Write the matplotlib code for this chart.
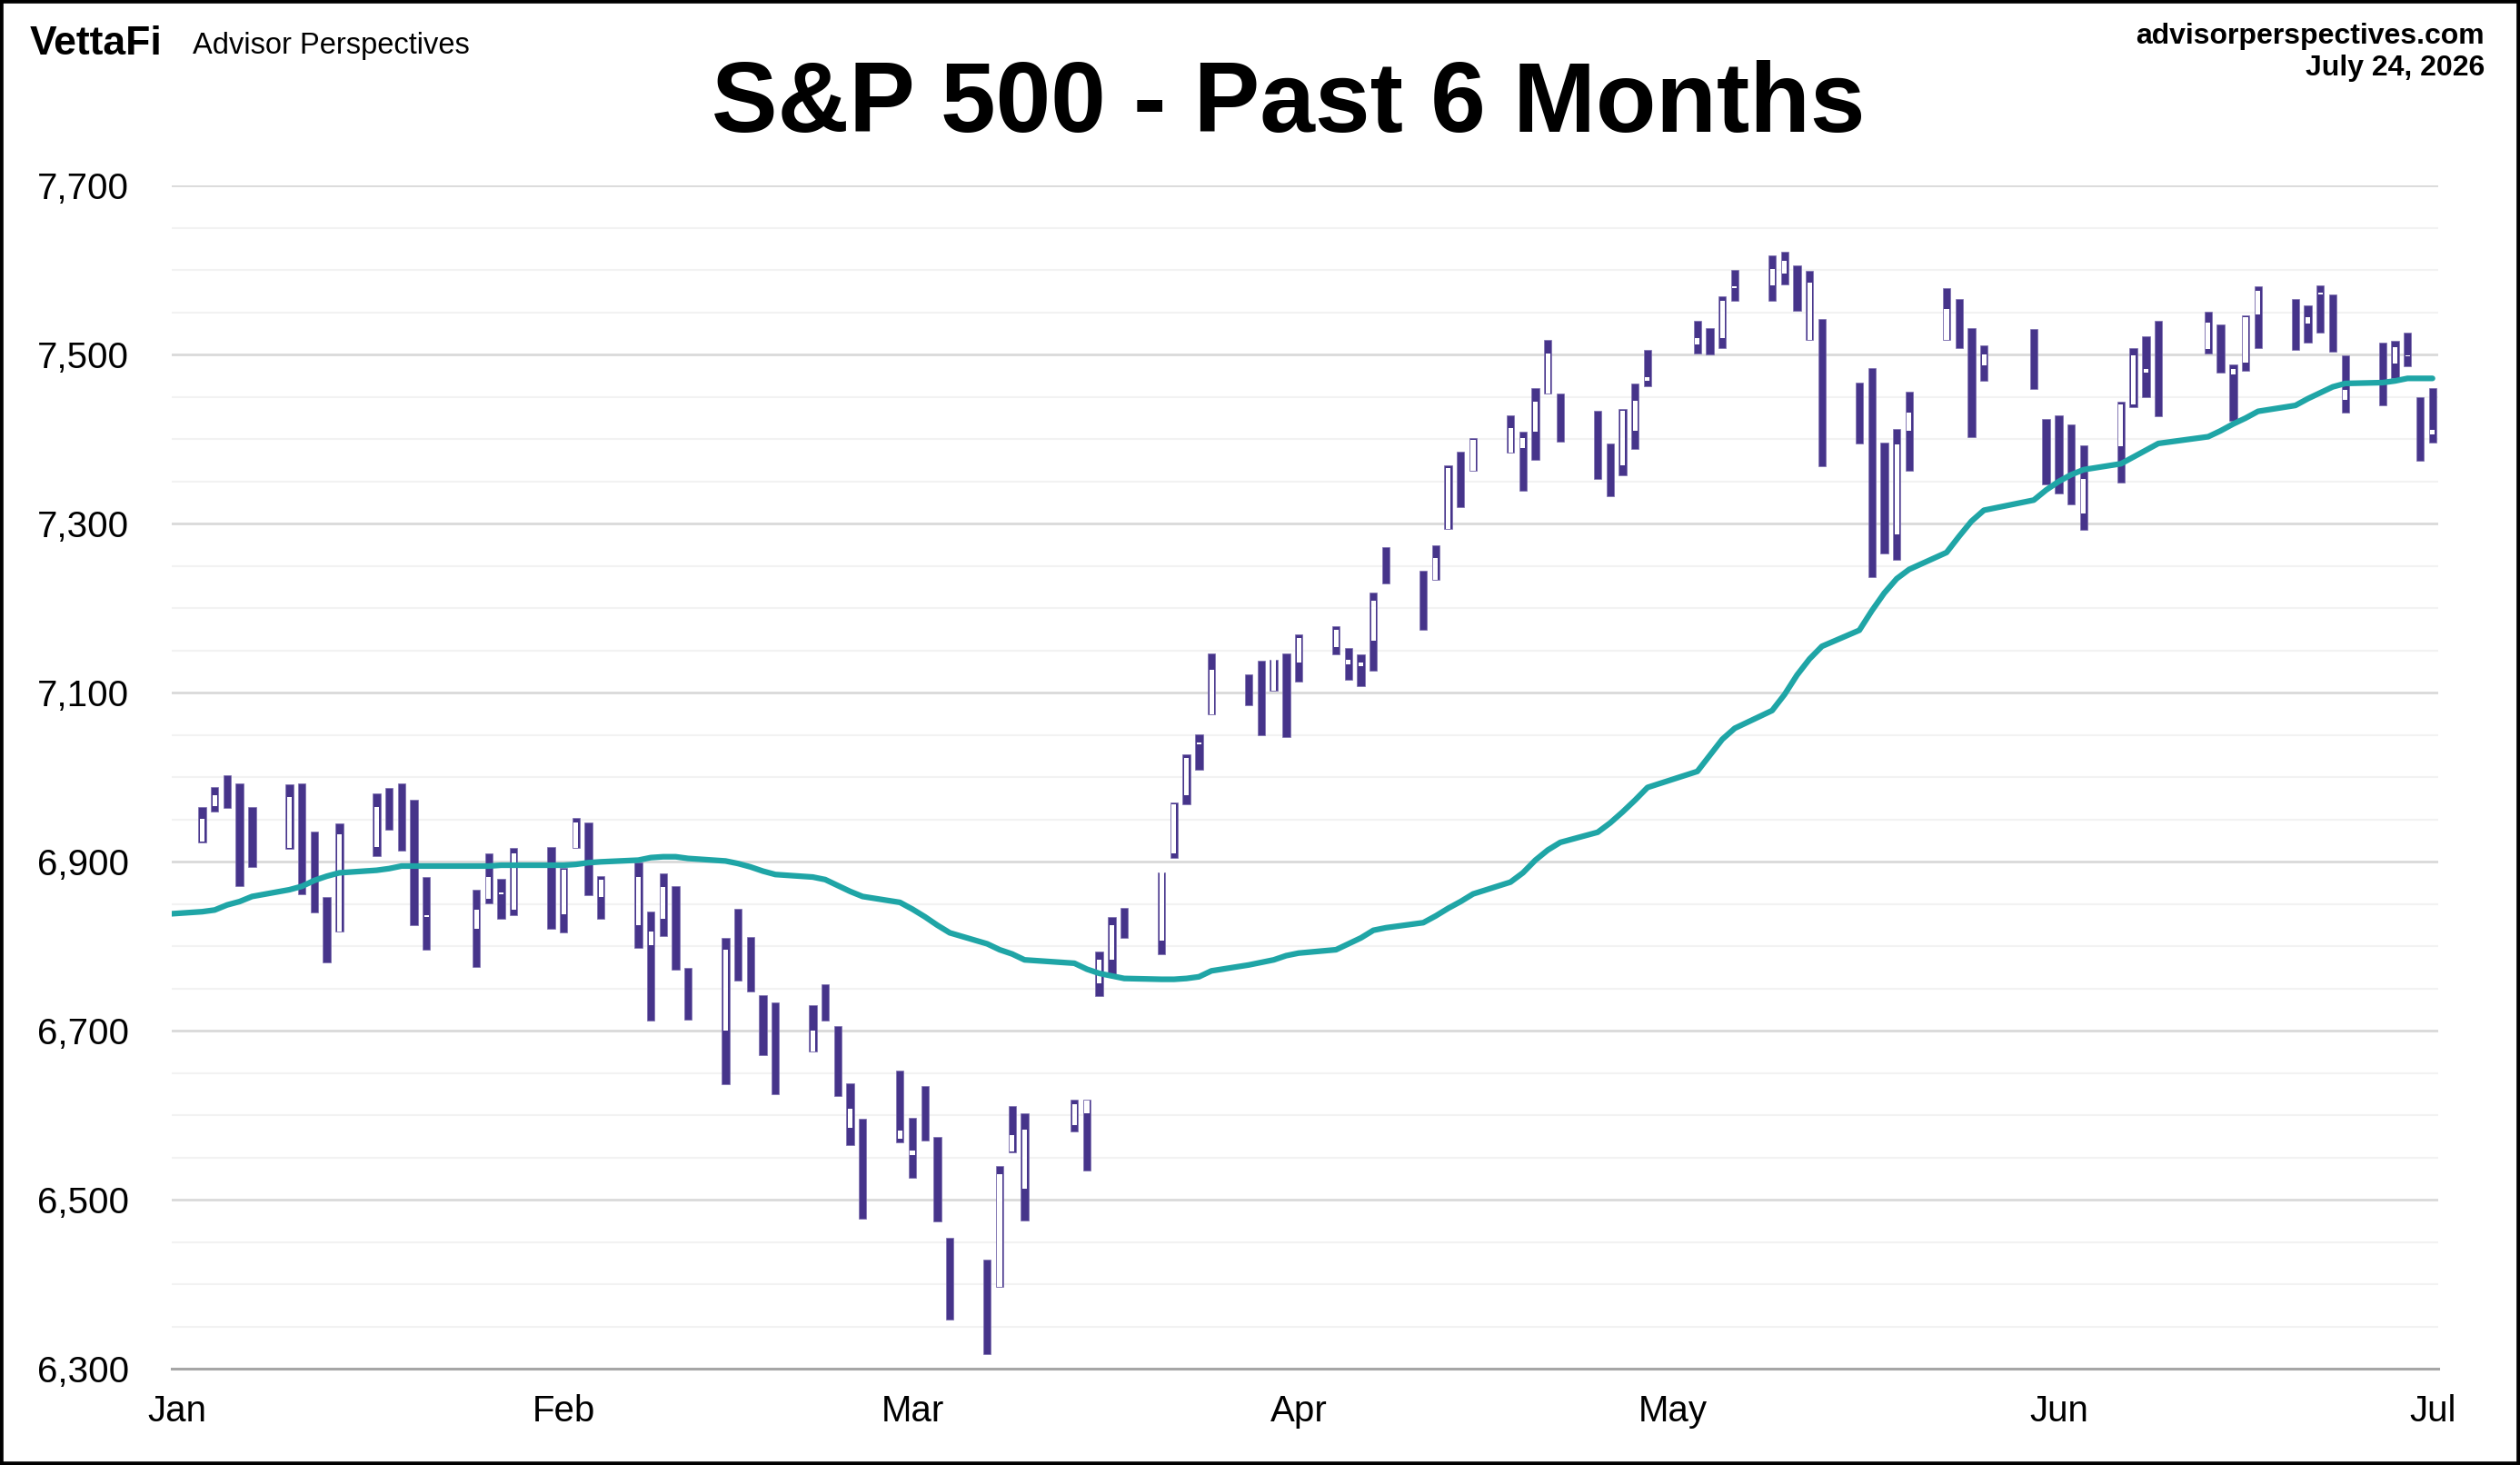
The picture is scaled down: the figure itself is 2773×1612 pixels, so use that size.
import matplotlib
matplotlib.use("Agg")
import matplotlib.pyplot as plt
import matplotlib.dates as mdates
import matplotlib.patches as mpatches
import pandas as pd

# ---------------- data ----------------
trade_days = {
    1: [3, 4, 5, 6, 7, 10, 11, 12, 13, 14, 17, 18, 19, 20, 21, 25, 26, 27, 28, 31],
    2: [1, 2, 3, 4, 7, 8, 9, 10, 11, 14, 15, 16, 17, 18, 21, 22, 23, 24, 25, 28],
    3: [1, 2, 3, 4, 7, 8, 9, 10, 14, 15, 16, 17, 18, 21, 22, 23, 24, 25, 28, 29, 30, 31],
    4: [1, 4, 5, 6, 7, 8, 11, 12, 13, 14, 15, 18, 19, 20, 21, 22, 25, 26, 27, 28, 29],
    5: [3, 4, 5, 6, 9, 10, 11, 12, 13, 16, 17, 18, 19, 20, 23, 24, 25, 26, 30, 31],
    6: [1, 2, 3, 6, 7, 8, 9, 13, 14, 15, 16, 17, 20, 21, 22, 23, 24, 27, 28, 29, 30],
    7: [1],
}

opens = [6924, 6966, 6995, 6985, 6958, 6916, 6985, 6930, 6850, 6818,
         6918, 6980, 6985, 6965, 6835, 6821, 6856, 6862, 6843, 6905,
         6838, 6916, 6940, 6858, 6825, 6801, 6833, 6865, 6768, 6700,
         6835, 6805, 6735, 6725, 6676, 6748, 6700, 6585, 6590, 6572,
         6553, 6628, 6568, 6448, 6420, 6397, 6557, 6513, 6589, 6602,
         6756, 6784, 6840, 6807, 6910, 6979, 7039, 7075, 7118, 7130,
         7103, 7140, 7136, 7154, 7134, 7132, 7162, 7268, 7238, 7234,
         7294, 7378, 7363, 7384, 7390, 7409, 7454, 7448, 7428, 7388,
         7369, 7410, 7469, 7512, 7525, 7520, 7579, 7582, 7596, 7600,
         7517, 7535, 7460, 7476, 7390, 7287, 7410, 7517, 7560, 7525,
         7487, 7524, 7418, 7422, 7412, 7312, 7392, 7441, 7479, 7534,
         7507, 7530, 7477, 7491, 7548, 7560, 7537, 7571, 7565, 7447,
         7508, 7490, 7498, 7444, 7406]
highs = [6965, 6989, 7002, 6993, 6965, 6992, 6993, 6936, 6858, 6945,
         6981, 6987, 6993, 6973, 6882, 6867, 6910, 6880, 6916, 6917,
         6893, 6952, 6947, 6883, 6899, 6841, 6886, 6871, 6774, 6810,
         6844, 6811, 6742, 6734, 6730, 6755, 6706, 6638, 6596, 6653,
         6597, 6635, 6574, 6455, 6429, 6540, 6611, 6603, 6619, 6619,
         6794, 6835, 6846, 6887, 6970, 7027, 7051, 7147, 7122, 7138,
         7139, 7147, 7169, 7179, 7153, 7145, 7219, 7272, 7244, 7274,
         7369, 7385, 7401, 7428, 7409, 7460, 7517, 7454, 7434, 7395,
         7436, 7466, 7506, 7540, 7531, 7569, 7600, 7618, 7622, 7606,
         7599, 7542, 7467, 7484, 7396, 7412, 7456, 7579, 7566, 7532,
         7511, 7530, 7424, 7428, 7418, 7393, 7444, 7508, 7522, 7540,
         7551, 7536, 7489, 7547, 7581, 7566, 7558, 7582, 7571, 7499,
         7514, 7516, 7526, 7450, 7460]
lows = [6923, 6959, 6964, 6871, 6894, 6915, 6862, 6840, 6781, 6817,
        6907, 6938, 6913, 6825, 6796, 6776, 6851, 6833, 6837, 6821,
        6816, 6916, 6861, 6833, 6798, 6712, 6812, 6772, 6713, 6637,
        6760, 6747, 6671, 6625, 6676, 6712, 6623, 6565, 6478, 6568,
        6526, 6570, 6475, 6358, 6318, 6397, 6556, 6476, 6581, 6535,
        6741, 6767, 6810, 6791, 6905, 6968, 7009, 7074, 7085, 7050,
        7103, 7048, 7113, 7146, 7115, 7108, 7126, 7229, 7174, 7234,
        7294, 7320, 7363, 7384, 7339, 7376, 7454, 7397, 7353, 7333,
        7357, 7389, 7463, 7501, 7500, 7508, 7564, 7564, 7583, 7552,
        7517, 7368, 7395, 7237, 7265, 7257, 7363, 7517, 7508, 7403,
        7469, 7460, 7347, 7336, 7323, 7293, 7349, 7438, 7450, 7427,
        7501, 7479, 7422, 7481, 7508, 7506, 7514, 7526, 7504, 7432,
        7440, 7472, 7486, 7375, 7396]
closes = [6951, 6979, 6970, 6880, 6900, 6977, 6870, 6848, 6790, 6933,
          6965, 6945, 6920, 6835, 6837, 6843, 6882, 6864, 6910, 6830,
          6891, 6947, 6870, 6879, 6882, 6818, 6870, 6780, 6720, 6796,
          6768, 6755, 6680, 6635, 6700, 6718, 6630, 6608, 6485, 6582,
          6558, 6576, 6482, 6365, 6325, 6530, 6577, 6583, 6613, 6618,
          6784, 6825, 6815, 6887, 6968, 7023, 7041, 7127, 7090, 7058,
          7139, 7055, 7165, 7174, 7139, 7136, 7209, 7235, 7180, 7259,
          7366, 7328, 7399, 7413, 7401, 7444, 7501, 7403, 7360, 7340,
          7434, 7446, 7473, 7520, 7505, 7564, 7581, 7601, 7611, 7558,
          7585, 7375, 7400, 7245, 7272, 7394, 7431, 7554, 7515, 7410,
          7500, 7466, 7353, 7342, 7330, 7353, 7441, 7499, 7483, 7433,
          7538, 7485, 7483, 7544, 7576, 7512, 7544, 7573, 7510, 7458,
          7446, 7509, 7499, 7382, 7411]

# moving average (teal line); first value is the prior session (Dec 31)
ma_start = "2025-12-31"
ma_values = [6838,
             6841, 6843, 6849, 6853, 6859, 6867, 6871, 6878, 6883, 6887,
             6890, 6892, 6895, 6895, 6895, 6895, 6895, 6896, 6896, 6896,
             6896, 6897, 6899, 6900, 6902, 6905, 6906, 6906, 6904, 6901,
             6898, 6894, 6889, 6885, 6882, 6879, 6872, 6865, 6859, 6852,
             6844, 6835, 6825, 6816, 6803, 6796, 6791, 6784, 6780, 6773,
             6768, 6765, 6762, 6761, 6761, 6762, 6764, 6771, 6778, 6781,
             6784, 6789, 6792, 6796, 6803, 6810, 6819, 6822, 6828, 6836,
             6845, 6853, 6862, 6876, 6887, 6902, 6914, 6923, 6935, 6946,
             6959, 6973, 6988, 7007, 7026, 7045, 7058, 7079, 7098, 7121,
             7140, 7155, 7174, 7197, 7218, 7235, 7246, 7266, 7285, 7303,
             7316, 7328, 7340, 7350, 7358, 7364, 7371, 7379, 7387, 7395,
             7403, 7410, 7418, 7425, 7433, 7440, 7448, 7455, 7462, 7466,
             7467, 7469, 7472, 7472, 7472]

y_ticks = [6300, 6500, 6700, 6900, 7100, 7300, 7500, 7700]
month_labels = ["Jan", "Feb", "Mar", "Apr", "May", "Jun", "Jul"]

title = "S&P 500 - Past 6 Months"
site = "advisorperspectives.com"
date_text = "July 24, 2026"

# ---------------- styling ----------------
PURPLE = "#46348A"
TEAL = "#1FA5A6"
FONT = "Liberation Sans"

dates = pd.to_datetime([f"2026-{m:02d}-{d:02d}" for m in sorted(trade_days) for d in trade_days[m]])
x = mdates.date2num(dates)
ma_x = mdates.date2num(pd.to_datetime([ma_start] + list(dates.strftime("%Y-%m-%d"))))

W, H = 2773, 1612
fig = plt.figure(figsize=(W / 100, H / 100), dpi=100)
fig.patch.set_facecolor("white")

ax = fig.add_axes([189 / W, 1 - 1506.3 / H, (2683 - 189) / W, (1506.3 - 204.3) / H])
ax.set_facecolor("white")

# gridlines every 50, darker at labelled values
for v in range(6350, 7701, 50):
    if v in y_ticks:
        ax.axhline(v, color="#d9d9d9", lw=2.0, zorder=0)
    else:
        ax.axhline(v, color="#f2f2f2", lw=1.5, zorder=0)

# candles
up = [c > o for o, c in zip(opens, closes)]
ax.bar(x, [h - l for h, l in zip(highs, lows)], bottom=lows, width=0.61,
       color=PURPLE, edgecolor="#7d70b0", linewidth=0.5, zorder=2)
ux = [xi for xi, u in zip(x, up) if u]
ub = [o for o, u in zip(opens, up) if u]
uh = [c - o for o, c, u in zip(opens, closes, up) if u]
ax.bar(ux, uh, bottom=ub, width=0.37, color="white", linewidth=0, zorder=3)

# moving average
ax.plot(ma_x, ma_values, color=TEAL, lw=4.5, solid_capstyle="round",
        solid_joinstyle="round", zorder=4)

x0 = mdates.date2num(pd.Timestamp("2026-01-01"))
x1 = mdates.date2num(pd.Timestamp("2026-07-01"))
ax.set_xlim(x0 - 0.445, x1 + 0.46)
ax.set_ylim(6300, 7700)

month_starts = mdates.date2num(pd.to_datetime([f"2026-{m:02d}-01" for m in range(1, 8)]))
ax.set_xticks(month_starts)
ax.set_xticklabels(month_labels)
ax.set_yticks(y_ticks)
ax.set_yticklabels([f"{v:,}" for v in y_ticks])
ax.tick_params(axis="both", length=0, labelsize=29, colors="black")
ax.tick_params(axis="y", pad=34)
ax.tick_params(axis="x", pad=20)
for lab in ax.get_xticklabels() + ax.get_yticklabels():
    lab.set_fontfamily(FONT)

for s in ["top", "right", "left"]:
    ax.spines[s].set_visible(False)
ax.spines["bottom"].set_color("#a6a6a6")
ax.spines["bottom"].set_linewidth(2.2)
ax.spines["bottom"].set_zorder(5)

# header texts
fig.text(1417.5 / W, 1 - 145 / H, title, ha="center", va="baseline",
         fontsize=78.5, fontweight="bold", family=FONT)
fig.text(2734 / W, 1 - 47.7 / H, site, ha="right", va="baseline",
         fontsize=23, fontweight="bold", family=FONT)
fig.text(2734 / W, 1 - 83.3 / H, date_text, ha="right", va="baseline",
         fontsize=23, fontweight="bold", family=FONT)
fig.text(33 / W, 1 - 60 / H, "VettaFi", ha="left", va="baseline",
         fontsize=32, fontweight="bold", family=FONT)
fig.text(212 / W, 1 - 59 / H, "Advisor Perspectives", ha="left", va="baseline",
         fontsize=23.5, family=FONT)

# outer frame
fig.patches.append(mpatches.Rectangle((0, 0), 1, 1, transform=fig.transFigure,
                                      fill=False, edgecolor="black", linewidth=5.5))

fig.savefig("out.png", dpi=100, facecolor="white")
